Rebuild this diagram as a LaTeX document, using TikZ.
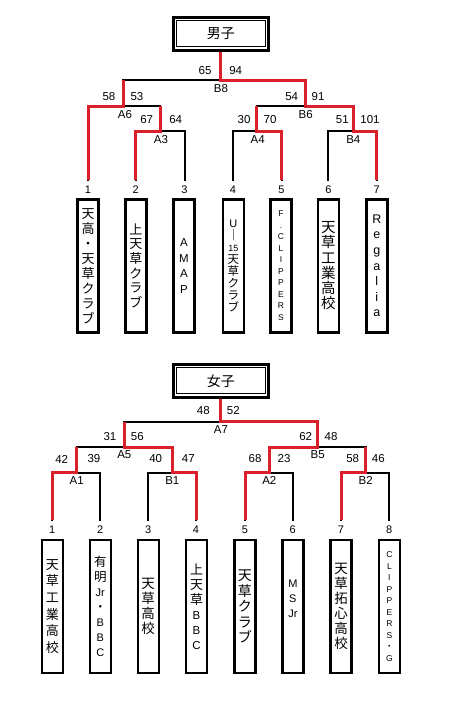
\documentclass[tikz,border=0pt]{standalone}
\usepackage{fontspec}
\setmainfont{Liberation Sans}
\newfontfamily\jp{Noto Sans CJK JP}
\definecolor{winred}{RGB}{218,32,42}
\newcommand\Lt[2]{{\rmfamily\fontsize{#1}{#1}\selectfont #2}}
\begin{document}
\begin{tikzpicture}[x=1pt,y=-1pt,
  blk/.style={line width=2pt, line cap=rect},
  win/.style={draw=winred, line width=3pt, line join=miter},
  titlebox/.style={draw, line width=3pt, minimum width=95.5pt, minimum height=33pt, inner sep=0, font=\jp\fontsize{14}{14}\selectfont},
  score/.style={font=\fontsize{11.5}{11.5}\selectfont, inner sep=0},
  mlab/.style={font=\fontsize{11.5}{11.5}\selectfont, inner sep=0},
  numlab/.style={font=\fontsize{11}{11}\selectfont, inner xsep=1pt, inner ysep=5.5pt, outer sep=0, anchor=north},
  teambox/.style={draw, line width=2.4pt, minimum width=21pt, minimum height=133pt, inner sep=0},
  vt/.style={align=center, inner sep=0}
]
\useasboundingbox (0,0) rectangle (455,723);
\fill[white] (0,0) rectangle (455,723);

% ================= MALE =================
\node[titlebox] (mT) at (220.75,33.6) {男子};
\draw[line width=0.9pt] ([shift={(5pt,-5pt)}]mT.north west) rectangle ([shift={(-5pt,5pt)}]mT.south east);

\coordinate (mB8) at (220.5,80);
\coordinate (mA6) at (123.3,106);
\coordinate (mB6) at (305,106);
\coordinate (mA3) at (160,131);
\coordinate (mA4) at (256.5,131);
\coordinate (mB4) at (353,131);

\node[numlab] (n1) at (88,180) {1};
\node[numlab] (n2) at (135.8,180) {2};
\node[numlab] (n3) at (184.5,180) {3};
\node[numlab] (n4) at (233,180) {4};
\node[numlab] (n5) at (281.5,180) {5};
\node[numlab] (n6) at (328.4,180) {6};
\node[numlab] (n7) at (376.8,180) {7};

% black bracket
\draw[blk] (mB8 |- mT.south) -- (mB8);
\draw[blk] (mA6 |- mB8) -- (mB6 |- mB8);
\draw[blk] (mA6 |- mB8) -- (mA6);
\draw[blk] (mB6 |- mB8) -- (mB6);
\draw[blk] (n1 |- mA6) -- (mA3 |- mA6);
\draw[blk] (mA4 |- mB6) -- (mB4 |- mB6);
\draw[blk] (mA3 |- mA6) -- (mA3);
\draw[blk] (mA4 |- mB6) -- (mA4);
\draw[blk] (mB4 |- mB6) -- (mB4);
\draw[blk] (n2 |- mA3) -- (n3 |- mA3);
\draw[blk] (n4 |- mA4) -- (n5 |- mA4);
\draw[blk] (n6 |- mB4) -- (n7 |- mB4);
\draw[blk] (n1) -- (n1 |- mA6);
\draw[blk] (n2) -- (n2 |- mA3);
\draw[blk] (n3) -- (n3 |- mA3);
\draw[blk] (n4) -- (n4 |- mA4);
\draw[blk] (n5) -- (n5 |- mA4);
\draw[blk] (n6) -- (n6 |- mB4);
\draw[blk] (n7) -- (n7 |- mB4);

% winners
\draw[win] (n1) |- (mA6) -- (mA6 |- mB8);
\draw[win] (n2) |- (mA3) -- (mA3 |- mA6);
\draw[win] (n5) |- (mA4) -- (mA4 |- mB6);
\draw[win] (n7) |- (mB4) -- (mB4 |- mB6) -- (mB6) -- (mB6 |- mB8) -- (mB8) -- (mB8 |- mT.south);

% scores
\node[score] (s65) at (205,70.7) {65};
\node[score] (s94) at (235.7,70.7) {94};
\node[score] (s58) at (109,96.7) {58};
\node[score] (s53) at (137,96.7) {53};
\node[score] (s67) at (146.7,120) {67};
\node[score] (s64) at (175.7,120) {64};
\node[score] (s30) at (244,120) {30};
\node[score] (s70) at (270,120) {70};
\node[score] (s54) at (291.7,96.7) {54};
\node[score] (s91) at (318,96.7) {91};
\node[score] (s51) at (342.3,120) {51};
\node[score] (s101) at (370,120) {101};
% match labels
\node[mlab] (lB8) at (221,89) {B8};
\node[mlab] (lA6) at (125,115) {A6};
\node[mlab] (lA3) at (161,139.3) {A3};
\node[mlab] (lA4) at (257.7,139.3) {A4};
\node[mlab] (lB6) at (305.7,115) {B6};
\node[mlab] (lB4) at (353.3,139.3) {B4};

% team boxes
\node[teambox] (mb1) at (88,265.8) {};
\node[teambox] (mb2) at (135.8,265.8) {};
\node[teambox] (mb3) at (184,265.8) {};
\node[teambox] (mb4) at (233.3,265.8) {};
\node[teambox] (mb5) at (281,265.8) {};
\node[teambox] (mb6) at (328.4,265.8) {};
\node[teambox] (mb7) at (376.8,265.8) {};

\node[vt, font=\jp\fontsize{13}{15}\selectfont] (mt1) at (mb1.center) {天\\高\\・\\天\\草\\ク\\ラ\\ブ};
\node[vt, font=\jp\fontsize{13}{14.7}\selectfont] (mt2) at (mb2.center) {上\\天\\草\\ク\\ラ\\ブ};
\node[vt, font=\fontsize{11.5}{15.5}\selectfont] (mt3) at (mb3.center) {A\\M\\A\\P};
\node[vt, font=\jp\fontsize{11.5}{12.1}\selectfont] (mt4) at (mb4.center) {\Lt{11}{U}\\｜\\\Lt{9}{15}\\天\\草\\ク\\ラ\\ブ};
\node[vt, font=\fontsize{8.5}{11.5}\selectfont] (mt5) at (mb5.center) {F\\.\\C\\L\\I\\P\\P\\E\\R\\S};
\node[vt, font=\jp\fontsize{14.5}{15.3}\selectfont] (mt6) at (mb6.center) {天\\草\\工\\業\\高\\校};
\node[vt, font=\fontsize{12.5}{15.6}\selectfont] (mt7) at (mb7.center) {R\\e\\g\\a\\l\\i\\a};

% ================= FEMALE =================
\node[titlebox] (fT) at (220.75,380.8) {女子};
\draw[line width=0.9pt] ([shift={(5pt,-5pt)}]fT.north west) rectangle ([shift={(-5pt,5pt)}]fT.south east);

\coordinate (fA7) at (220.5,421.7);
\coordinate (fA5) at (124.3,447.3);
\coordinate (fB5) at (317.7,447.3);
\coordinate (fA1) at (76.5,472.7);
\coordinate (fB1) at (172.3,472.7);
\coordinate (fA2) at (269.3,472.7);
\coordinate (fB2) at (365.7,472.7);

\node[numlab] (f1) at (52.3,520) {1};
\node[numlab] (f2) at (100.3,520) {2};
\node[numlab] (f3) at (148.3,520) {3};
\node[numlab] (f4) at (196,520) {4};
\node[numlab] (f5) at (245,520) {5};
\node[numlab] (f6) at (292.7,520) {6};
\node[numlab] (f7) at (341,520) {7};
\node[numlab] (f8) at (389.3,520) {8};

\draw[blk] (fA7 |- fT.south) -- (fA7);
\draw[blk] (fA5 |- fA7) -- (fB5 |- fA7);
\draw[blk] (fA5 |- fA7) -- (fA5);
\draw[blk] (fB5 |- fA7) -- (fB5);
\draw[blk] (fA1 |- fA5) -- (fB1 |- fA5);
\draw[blk] (fA2 |- fB5) -- (fB2 |- fB5);
\draw[blk] (fA1 |- fA5) -- (fA1);
\draw[blk] (fB1 |- fA5) -- (fB1);
\draw[blk] (fA2 |- fB5) -- (fA2);
\draw[blk] (fB2 |- fB5) -- (fB2);
\draw[blk] (f1 |- fA1) -- (f2 |- fA1);
\draw[blk] (f3 |- fB1) -- (f4 |- fB1);
\draw[blk] (f5 |- fA2) -- (f6 |- fA2);
\draw[blk] (f7 |- fB2) -- (f8 |- fB2);
\draw[blk] (f1) -- (f1 |- fA1);
\draw[blk] (f2) -- (f2 |- fA1);
\draw[blk] (f3) -- (f3 |- fB1);
\draw[blk] (f4) -- (f4 |- fB1);
\draw[blk] (f5) -- (f5 |- fA2);
\draw[blk] (f6) -- (f6 |- fA2);
\draw[blk] (f7) -- (f7 |- fB2);
\draw[blk] (f8) -- (f8 |- fB2);

\draw[win] (f5) |- (fA2) -- (fA2 |- fB5) -- (fB5) -- (fB5 |- fA7) -- (fA7) -- (fA7 |- fT.south);
\draw[win] (f4) |- (fB1) -- (fB1 |- fA5) -- (fA5) -- (fA5 |- fA7);
\draw[win] (f1) |- (fA1) -- (fA1 |- fA5);
\draw[win] (f7) |- (fB2) -- (fB2 |- fB5);

\node[score] (g48a) at (203.3,410.7) {48};
\node[score] (g52) at (233.3,410.7) {52};
\node[score] (g31) at (110,436.7) {31};
\node[score] (g56) at (137.3,436.7) {56};
\node[score] (g42) at (61.7,459) {42};
\node[score] (g39) at (94,459) {39};
\node[score] (g40) at (155.7,459) {40};
\node[score] (g47) at (188.3,459) {47};
\node[score] (g62) at (305.7,436.7) {62};
\node[score] (g48b) at (331,436.7) {48};
\node[score] (g68) at (255,459) {68};
\node[score] (g23) at (284,459) {23};
\node[score] (g58) at (352.7,459) {58};
\node[score] (g46) at (378.3,459) {46};

\node[mlab] (kA7) at (221,430) {A7};
\node[mlab] (kA5) at (124.3,454.3) {A5};
\node[mlab] (kB5) at (317.7,454.3) {B5};
\node[mlab] (kA1) at (76.7,480.7) {A1};
\node[mlab] (kB1) at (172.3,480.7) {B1};
\node[mlab] (kA2) at (269.3,480.7) {A2};
\node[mlab] (kB2) at (365.7,480.7) {B2};

\node[teambox] (fb1) at (52.3,606.5) {};
\node[teambox] (fb2) at (100.3,606.5) {};
\node[teambox] (fb3) at (148.2,606.5) {};
\node[teambox] (fb4) at (196.5,606.5) {};
\node[teambox] (fb5) at (244.8,606.5) {};
\node[teambox] (fb6) at (292.9,606.5) {};
\node[teambox] (fb7) at (341,606.5) {};
\node[teambox] (fb8) at (389.4,606.5) {};

\node[vt, font=\jp\fontsize{13}{16.7}\selectfont] (ft1) at (fb1.center) {天\\草\\工\\業\\高\\校};
\node[vt, font=\jp\fontsize{12.5}{15}\selectfont] (ft2) at (fb2.center) {有\\明\\\Lt{11}{Jr}\\・\\\Lt{11}{B}\\\Lt{11}{B}\\\Lt{11}{C}};
\node[vt, font=\jp\fontsize{13.5}{15}\selectfont] (ft3) at (fb3.center) {天\\草\\高\\校};
\node[vt, font=\jp\fontsize{13}{15}\selectfont] (ft4) at (fb4.center) {上\\天\\草\\\Lt{11.5}{B}\\\Lt{11.5}{B}\\\Lt{11.5}{C}};
\node[vt, font=\jp\fontsize{14}{15.4}\selectfont] (ft5) at (fb5.center) {天\\草\\ク\\ラ\\ブ};
\node[vt, font=\fontsize{11}{15}\selectfont] (ft6) at ([yshift=8pt]fb6.center) {M\\S\\Jr};
\node[vt, font=\jp\fontsize{13.5}{15}\selectfont] (ft7) at (fb7.center) {天\\草\\拓\\心\\高\\校};
\node[vt, font=\fontsize{8.5}{11.5}\selectfont] (ft8) at (fb8.center) {C\\L\\I\\P\\P\\E\\R\\S\\{\jp ・}\\G};
\end{tikzpicture}
\end{document}
